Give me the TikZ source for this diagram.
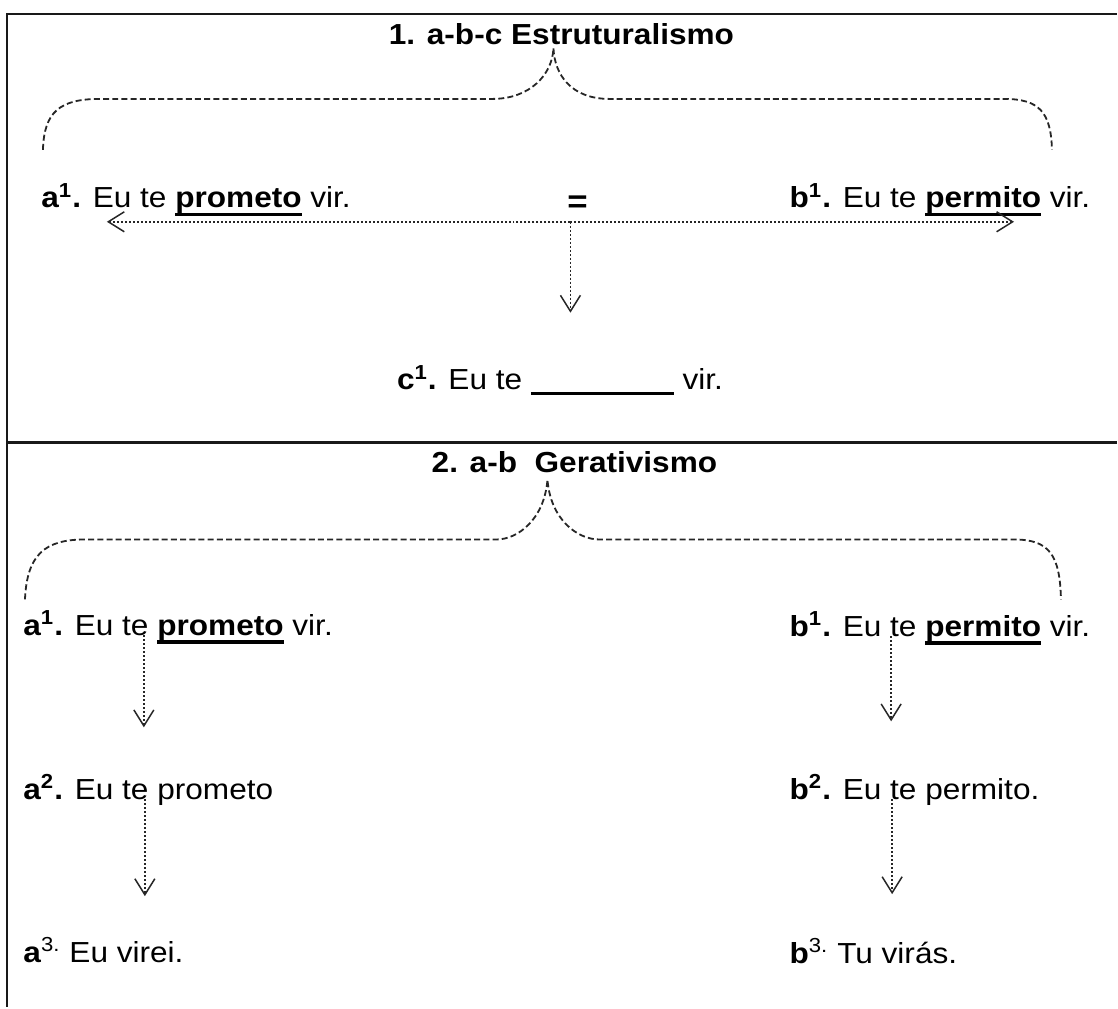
\documentclass[tikz,border=0pt]{standalone}
\usepackage{fontspec}
\setmainfont{Liberation Sans}
\usepackage{tikz}
\usetikzlibrary{arrows.meta}
\tikzstyle{sent} = [anchor=base west, inner sep=0pt, xscale=1.09,
font=\fontsize{14.5}{17}\selectfont]
\tikzstyle{line} = [draw, black!85, line width=0.75pt, dash pattern=on 1pt off 1pt,
-{Straight Barb[length=8pt,width=10pt]}]
\tikzstyle{brace} = [draw, black!85, line width=0.9pt, dash pattern=on 3pt off 1.6pt]
\newcommand{\undl}[1]{\setbox0\hbox{#1}\rlap{\rule[-4.25pt]{\wd0}{1.75pt}}\box0\relax}

\begin{document}
\begin{tikzpicture}[x=0.5pt, y=-0.5pt,
	frame/.style={draw, black!90, line width=1.1pt}]
	\path [fill=white] (0,0) rectangle (1118,1008);
	% Table frame
	\path [frame] (1118,14) -- (7,14) -- (7,1008);
	\path [frame] (7,443) -- (1118,443);
	%% 1. Estruturalismo
	\node [sent, anchor=base] at (562,45) (titleE) {\textbf{1. a-b-c Estruturalismo}};
	\node [sent] at (41,208) (aE1) {\textbf{a\textsuperscript{1}.} Eu te \undl{\textbf{prometo}} vir.};
	\node [sent, anchor=base, font=\fontsize{16}{18}\selectfont] at (578,213) (eqE) {\textbf{=}};
	\node [sent] at (790,208) (bE1) {\textbf{b\textsuperscript{1}.} Eu te \undl{\textbf{permito}} vir.};
	\node [sent] at (397,390) (cE1) {\textbf{c\textsuperscript{1}.} Eu te \rule[-2.75pt]{65.6pt}{1.5pt} vir.};
	\coordinate (hubE) at (571,222);
	\coordinate (aTipE) at (107,222);
	\coordinate (bTipE) at (1015,222);
	\coordinate (cTipE) at (571,313);
	% Brace
	\path [brace] (43,150) .. controls (44,112) and (60,99) .. (100,99) -- (493,99)
		.. controls (530,99) and (553,75) .. (554,48)
		.. controls (555,75) and (572,99) .. (610,99) -- (1005,99)
		.. controls (1040,99) and (1052,112) .. (1053,150);
	% Flows
	\path [line] (hubE) -- (aTipE);
	\path [line] (hubE) -- (bTipE);
	\path [line] (hubE) -- (cTipE);
	%% 2. Gerativismo
	\node [sent, anchor=base] at (575,473) (titleG) {\textbf{2. a-b\ \ Gerativismo}};
	\node [sent] at (23,636) (aG1) {\textbf{a\textsuperscript{1}.} Eu te \undl{\textbf{prometo}} vir.};
	\node [sent] at (790,637) (bG1) {\textbf{b\textsuperscript{1}.} Eu te \undl{\textbf{permito}} vir.};
	\node [sent] at (23,800) (aG2) {\textbf{a\textsuperscript{2}.} Eu te prometo};
	\node [sent] at (790,800) (bG2) {\textbf{b\textsuperscript{2}.} Eu te permito.};
	\node [sent] at (23,963) (aG3) {\textbf{a}\textsuperscript{3.} Eu virei.};
	\node [sent] at (790,964) (bG3) {\textbf{b}\textsuperscript{3.} Tu virás.};
	\coordinate (aTipG1) at (144,728);
	\coordinate (aTipG2) at (145,897);
	\coordinate (bTipG1) at (892,722);
	\coordinate (bTipG2) at (893,895);
	% Brace
	\path [brace] (25,600) .. controls (27,555) and (45,540) .. (85,540) -- (497,540)
		.. controls (518,540) and (545,520) .. (548,480)
		.. controls (551,520) and (578,540) .. (600,540) -- (1015,540)
		.. controls (1050,540) and (1061,555) .. (1062,600);
	% Flows
	\path [line] (aG1.base -| aTipG1) -- (aTipG1);
	\path [line] (aG2.base -| aTipG2) -- (aTipG2);
	\path [line] (bG1.base -| bTipG1) -- (bTipG1);
	\path [line] (bG2.base -| bTipG2) -- (bTipG2);
\end{tikzpicture}
\end{document}
